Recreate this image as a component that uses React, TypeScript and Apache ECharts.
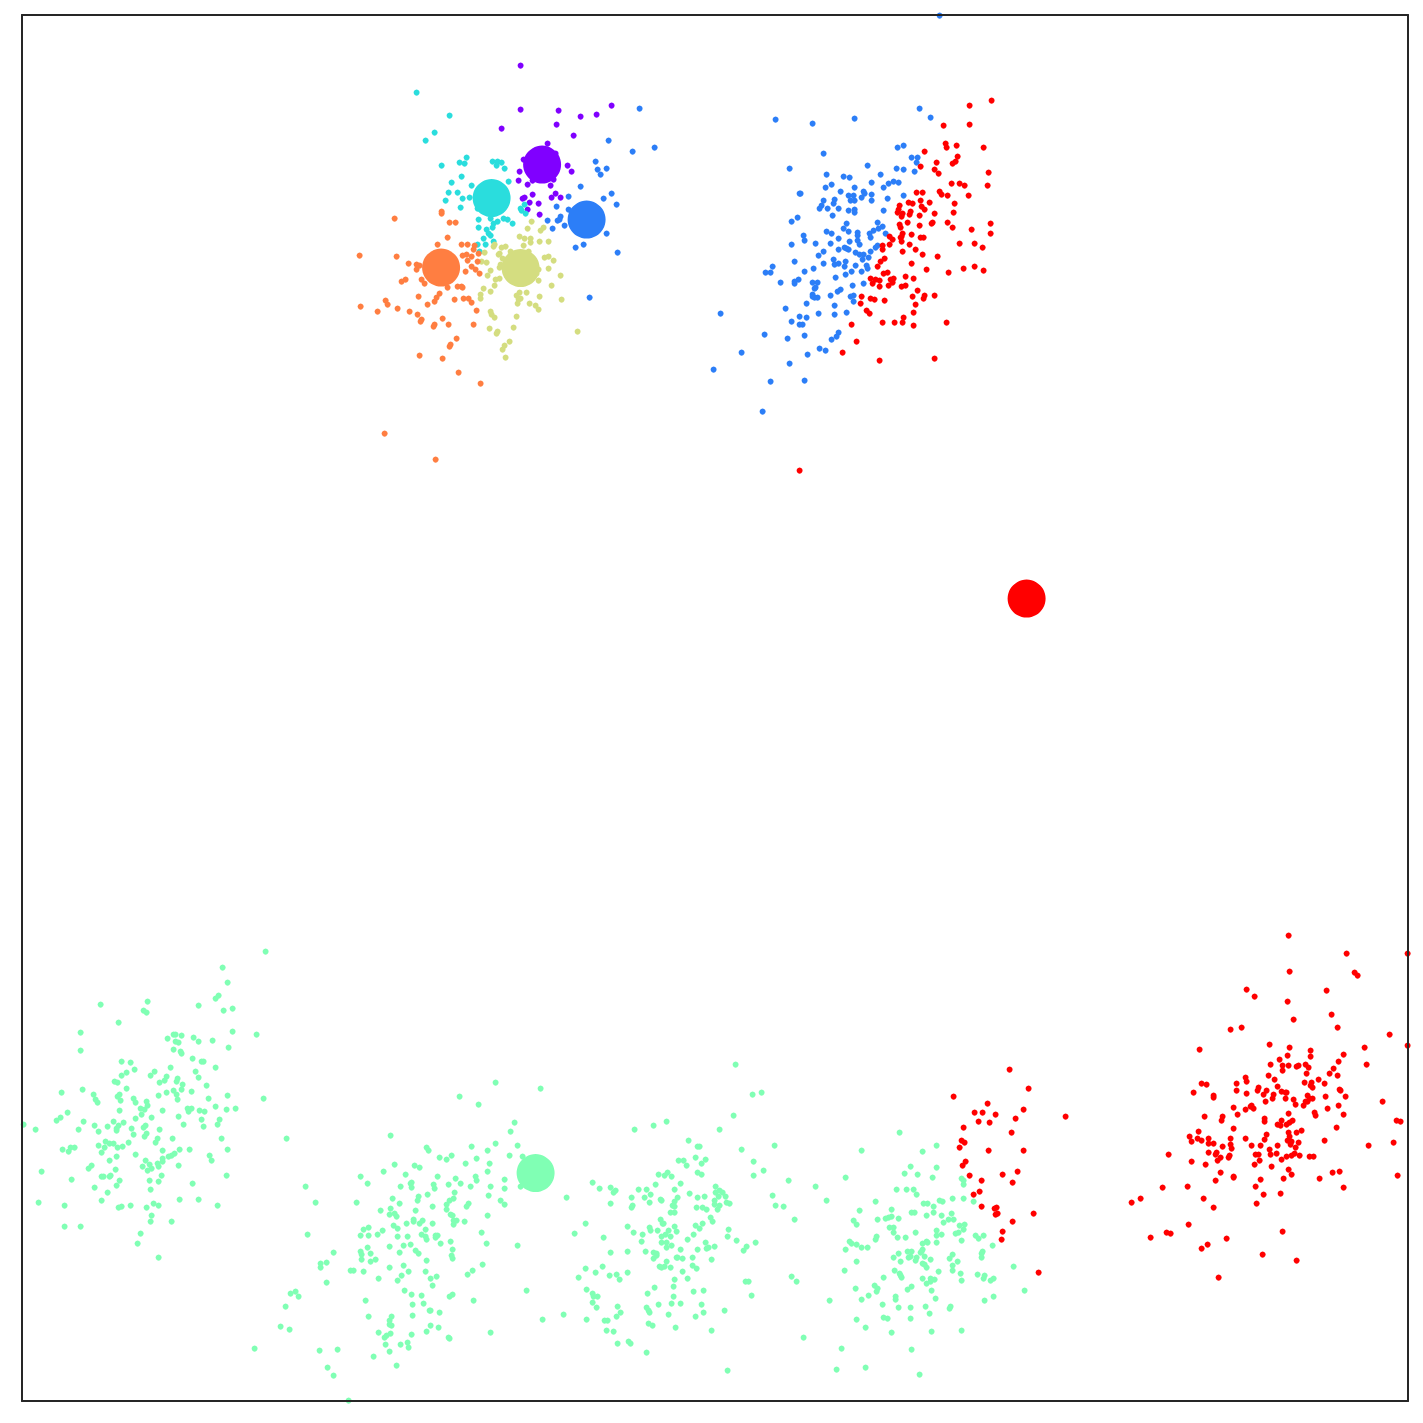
import React, { useEffect, useRef } from "react";
import * as echarts from "echarts";

const purplePoints = [[520,65],[520,109],[558,110],[580,116],[596,114],[611,105],[501,128],[556,124],[573,135],[547,143],[567,165],[571,171],[519,171],[518,180],[527,184],[550,185],[553,179],[532,194],[555,193],[551,197],[560,197],[522,198],[524,197],[529,202],[538,203],[527,209],[539,214],[555,153],[523,159],[532,180]];

const bluePoints = [[939,15],[639,108],[608,140],[632,151],[654,147],[595,161],[597,169],[606,168],[600,174],[580,186],[568,196],[611,193],[603,198],[616,204],[556,206],[568,209],[560,216],[547,220],[557,220],[559,219],[552,228],[564,225],[606,233],[583,244],[575,247],[617,252],[589,297],
[775,119],[812,123],[854,118],[919,108],[930,117],[823,153],[897,147],[903,145],[911,157],[917,157],[916,162],[914,171],[789,168],[867,165],[896,168],[903,169],[826,174],[843,176],[849,177],[880,174],[871,182],[893,181],[888,183],[898,182],[883,187],[825,187],[831,184],[854,187],[840,191],[799,193],[800,193],[863,191],[864,193],[861,197],[871,194],[903,195],[848,195],[853,195],[850,200],[854,200],[871,200],[887,198],[823,200],[834,199],[833,203],[821,205],[819,208],[827,208],[838,208],[848,210],[854,209],[854,212],[883,210],[832,215],[797,217],[791,221],[846,223],[877,222],[843,228],[848,231],[882,226],[878,228],[873,230],[869,233],[826,231],[831,233],[857,232],[857,235],[885,233],[803,235],[838,238],[870,237],[804,240],[857,240],[849,241],[791,244],[815,243],[830,243],[859,244],[844,247],[846,248],[848,249],[838,249],[877,245],[875,247],[823,251],[870,251],[855,252],[859,254],[863,254],[818,255],[868,257],[862,259],[833,259],[794,261],[845,261],[823,263],[834,264],[838,263],[855,265],[844,266],[866,265],[867,268],[772,266],[813,268],[765,272],[770,272],[804,271],[851,271],[861,271],[845,274],[835,277],[798,279],[794,281],[794,283],[780,282],[812,282],[817,282],[815,287],[863,283],[852,285],[840,289],[837,291],
[720,313],[785,308],[806,303],[830,295],[814,288],[812,294],[812,296],[814,297],[817,297],[850,296],[853,295],[853,301],[834,305],[834,314],[818,313],[846,312],[799,316],[806,317],[791,321],[799,324],[802,324],[764,334],[804,335],[787,338],[838,332],[836,336],[831,339],[819,348],[825,350],[741,352],[807,354],[789,363],[713,369],[770,381],[804,380],[762,411]];

const cyanPoints = [[416,92],[449,115],[434,132],[425,140],[466,157],[459,162],[464,163],[441,165],[492,161],[497,161],[501,162],[496,165],[504,168],[461,176],[451,182],[471,185],[508,181],[448,192],[457,192],[462,198],[469,197],[445,200],[460,207],[524,204],[520,208],[521,210],[525,213],[478,219],[490,218],[497,221],[503,218],[507,219],[512,223],[493,223],[492,227],[478,227],[486,229],[488,233],[490,235],[483,238],[493,241],[477,244],[485,244],[479,251],[477,208]];

const greenPoints = [[265,951],[222,967],[227,982],[218,995],[215,998],[100,1004],[147,1001],[198,1005],[223,1010],[232,1008],[143,1010],[146,1012],[118,1022],[80,1032],[232,1031],[256,1034],[173,1034],[175,1034],[181,1035],[167,1038],[193,1037],[198,1041],[212,1040],[175,1041],[178,1042],[228,1047],[80,1050],[173,1049],[180,1051],[181,1053],[192,1058],[121,1061],[130,1062],[201,1061],[203,1061],[134,1069],[170,1067],[215,1067],[126,1072],[121,1075],[154,1071],[150,1075],[195,1071],[198,1077],[166,1076],[164,1080],[159,1082],[177,1078],[176,1081],[114,1081],[117,1082],[182,1084],[206,1085],[126,1088],[181,1089],[173,1090],[166,1092],[191,1091],[61,1092],[82,1089],[93,1094],[119,1094],[117,1096],[158,1095],[176,1094],[227,1095],[177,1099],[208,1098],[263,1098],[95,1099],[97,1102],[120,1100],[133,1098],[135,1102],[146,1101],[147,1105],[140,1108],[144,1109],[119,1110],[162,1110],[187,1108],[191,1108],[188,1111],[199,1110],[204,1111],[215,1106],[226,1109],[235,1108],[67,1112],[60,1117],[56,1120],[141,1114],[135,1118],[151,1117],[178,1116],[201,1119],[219,1119],[83,1121],[94,1125],[113,1121],[123,1122],[107,1126],[118,1125],[116,1128],[116,1130],[145,1125],[143,1127],[183,1124],[217,1124],[203,1126],[23,1124],[35,1129],[78,1129],[98,1131],[131,1128],[159,1129],[133,1134],[146,1133],[144,1136],[157,1138],[172,1138],[221,1138],[155,1142],[105,1141],[109,1143],[113,1143],[128,1142],[98,1145],[104,1147],[117,1147],[122,1146],[70,1147],[74,1147],[62,1149],[68,1151],[101,1152],[162,1150],[179,1149],[189,1149],[227,1149],[135,1154],[174,1153],[171,1155],[168,1156],[209,1155],[116,1156],[109,1160],[145,1160],[162,1158],[162,1161],[211,1160],[157,1163],[149,1164],[158,1166],[142,1166],[178,1165],[91,1165],[88,1168],[151,1168],[147,1170],[115,1169],[41,1171],[101,1176],[103,1176],[109,1176],[110,1175],[161,1175],[226,1175],[71,1179],[119,1180],[149,1180],[158,1181],[192,1183],[116,1185],[94,1187],[150,1189],[107,1192],[101,1200],[179,1199],[198,1199],[38,1202],[64,1205],[118,1207],[121,1206],[130,1205],[146,1207],[153,1203],[158,1205],[217,1205],[151,1215],[150,1221],[171,1221],[64,1226],[80,1226],[140,1233],[137,1243],[158,1257],
[495,1082],[540,1088],[459,1096],[478,1104],[514,1122],[510,1131],[286,1138],[390,1135],[426,1147],[428,1150],[471,1146],[495,1143],[517,1145],[487,1150],[509,1155],[522,1156],[439,1157],[446,1159],[451,1155],[476,1158],[465,1163],[489,1163],[394,1164],[414,1165],[419,1167],[487,1171],[383,1171],[405,1174],[360,1176],[437,1176],[475,1176],[455,1178],[476,1180],[504,1179],[367,1183],[411,1182],[410,1183],[433,1184],[448,1184],[460,1183],[305,1186],[400,1186],[411,1187],[434,1188],[470,1186],[490,1186],[504,1188],[520,1186],[454,1192],[427,1194],[488,1195],[418,1196],[392,1198],[417,1200],[453,1198],[449,1200],[500,1200],[315,1202],[356,1202],[399,1203],[446,1204],[468,1203],[466,1206],[504,1204],[432,1206],[390,1208],[380,1210],[415,1210],[446,1209],[389,1214],[394,1213],[396,1216],[450,1214],[452,1215],[487,1215],[413,1219],[413,1221],[422,1220],[419,1223],[406,1223],[432,1223],[453,1220],[456,1220],[453,1224],[464,1221],[393,1225],[397,1228],[363,1229],[368,1227],[382,1230],[425,1229],[481,1232],[307,1234],[360,1235],[368,1235],[377,1234],[397,1236],[407,1236],[421,1234],[425,1236],[426,1239],[435,1235],[437,1235],[435,1237],[450,1241],[440,1243],[486,1243],[517,1245],[403,1245],[410,1244],[389,1246],[367,1247],[452,1249],[360,1251],[415,1250],[333,1252],[361,1254],[370,1253],[399,1252],[418,1253],[451,1255],[452,1258],[361,1259],[375,1259],[370,1261],[426,1260],[326,1262],[320,1263],[320,1267],[403,1265],[389,1267],[482,1264],[350,1270],[353,1270],[363,1271],[408,1271],[425,1271],[472,1270],[467,1274],[401,1275],[378,1278],[397,1280],[430,1278],[436,1276],[326,1282],[432,1285],[404,1290],[295,1291],[290,1293],[298,1296],[411,1294],[421,1295],[449,1296],[452,1294],[526,1290],[365,1300],[473,1300],[412,1304],[423,1303],[285,1306],[429,1310],[430,1310],[439,1312],[368,1316],[391,1316],[412,1315],[389,1320],[542,1319],[389,1324],[391,1325],[430,1325],[438,1327],[280,1326],[289,1329],[426,1331],[378,1332],[390,1333],[386,1335],[384,1337],[411,1334],[490,1332],[448,1337],[449,1338],[385,1344],[400,1344],[407,1342],[408,1347],[254,1348],[319,1350],[337,1349],[389,1351],[373,1356],[396,1365],[327,1367],[333,1375],[348,1400],
[735,1064],[752,1094],[761,1092],[733,1115],[634,1129],[653,1125],[666,1121],[719,1129],[688,1140],[697,1146],[699,1146],[774,1145],[741,1149],[695,1157],[705,1159],[678,1160],[683,1160],[753,1161],[701,1163],[686,1165],[763,1170],[697,1172],[701,1174],[658,1174],[667,1172],[664,1175],[671,1176],[753,1175],[788,1180],[592,1182],[655,1184],[680,1183],[715,1186],[599,1188],[610,1187],[615,1190],[613,1192],[638,1189],[646,1189],[674,1189],[719,1190],[715,1192],[722,1192],[689,1193],[650,1194],[772,1195],[566,1197],[631,1197],[644,1197],[677,1197],[697,1197],[704,1196],[718,1196],[725,1196],[660,1199],[661,1200],[674,1201],[714,1200],[649,1202],[726,1202],[729,1203],[610,1203],[714,1204],[719,1205],[672,1205],[674,1206],[632,1205],[631,1207],[696,1207],[702,1207],[706,1209],[717,1209],[775,1205],[783,1206],[670,1212],[674,1212],[710,1217],[712,1221],[794,1219],[660,1219],[662,1223],[663,1223],[585,1223],[702,1223],[695,1225],[699,1228],[627,1226],[649,1227],[674,1226],[650,1230],[657,1230],[668,1230],[676,1231],[728,1229],[574,1233],[633,1232],[642,1234],[665,1234],[661,1236],[670,1236],[693,1234],[727,1236],[603,1237],[687,1239],[736,1240],[641,1241],[661,1242],[666,1242],[705,1242],[755,1242],[671,1245],[666,1247],[714,1246],[746,1246],[706,1248],[708,1247],[680,1249],[697,1249],[743,1250],[610,1252],[627,1251],[645,1251],[653,1252],[656,1253],[656,1255],[653,1258],[676,1257],[677,1257],[682,1258],[692,1257],[711,1259],[666,1261],[602,1266],[692,1265],[659,1266],[661,1267],[664,1266],[670,1267],[696,1268],[585,1268],[595,1272],[627,1272],[682,1271],[609,1275],[616,1274],[578,1277],[619,1279],[674,1279],[687,1278],[791,1276],[796,1281],[745,1281],[748,1281],[673,1286],[654,1287],[586,1289],[693,1291],[703,1290],[592,1293],[647,1293],[593,1296],[597,1296],[673,1296],[751,1295],[592,1302],[658,1304],[671,1303],[680,1303],[701,1304],[596,1307],[617,1306],[646,1307],[648,1310],[649,1312],[620,1312],[703,1312],[724,1310],[563,1314],[668,1314],[616,1316],[695,1316],[586,1319],[604,1320],[607,1320],[648,1323],[652,1325],[675,1327],[606,1330],[613,1331],[711,1330],[803,1337],[617,1343],[628,1341],[630,1343],[646,1352],[727,1370],
[899,1132],[936,1145],[861,1150],[922,1151],[910,1166],[936,1167],[904,1173],[917,1174],[845,1177],[932,1177],[961,1178],[963,1180],[963,1184],[815,1186],[896,1189],[906,1189],[913,1189],[916,1194],[826,1200],[875,1201],[952,1198],[963,1198],[939,1200],[942,1201],[973,1201],[923,1203],[927,1203],[933,1206],[859,1210],[891,1209],[911,1212],[914,1212],[933,1212],[951,1213],[941,1215],[926,1215],[891,1216],[888,1217],[885,1218],[898,1218],[877,1219],[853,1220],[948,1219],[953,1219],[856,1224],[943,1222],[959,1225],[964,1224],[889,1227],[893,1227],[963,1229],[936,1230],[893,1232],[915,1232],[955,1233],[958,1232],[936,1235],[941,1234],[975,1235],[983,1235],[978,1238],[876,1236],[875,1239],[897,1237],[905,1237],[961,1240],[849,1241],[851,1243],[856,1244],[922,1243],[926,1241],[927,1242],[936,1242],[992,1245],[861,1247],[867,1247],[845,1249],[922,1249],[907,1251],[911,1251],[921,1251],[920,1252],[898,1253],[982,1251],[981,1253],[952,1254],[893,1257],[908,1257],[910,1256],[916,1257],[924,1256],[949,1258],[981,1257],[856,1261],[900,1261],[915,1260],[930,1259],[957,1261],[922,1263],[924,1264],[926,1267],[952,1265],[1013,1266],[844,1270],[894,1270],[938,1271],[952,1270],[899,1273],[900,1275],[960,1273],[977,1274],[984,1275],[883,1277],[901,1277],[922,1278],[930,1278],[934,1279],[930,1281],[961,1280],[983,1278],[993,1278],[990,1280],[926,1283],[874,1285],[911,1286],[855,1288],[877,1288],[907,1289],[931,1290],[1024,1290],[876,1291],[868,1295],[895,1296],[993,1296],[861,1299],[895,1299],[829,1300],[935,1298],[984,1300],[882,1304],[898,1307],[910,1307],[925,1306],[950,1306],[949,1308],[929,1313],[883,1317],[887,1318],[910,1318],[856,1319],[865,1327],[891,1332],[931,1331],[961,1330],[841,1348],[911,1349],[836,1369],[865,1367],[919,1374]];

const khakiPoints = [[531,221],[527,228],[540,230],[543,227],[519,236],[524,238],[530,238],[530,242],[539,241],[548,241],[523,245],[494,244],[493,246],[501,247],[505,246],[484,252],[499,253],[498,254],[510,251],[528,251],[502,258],[544,257],[548,256],[553,260],[481,261],[486,262],[500,264],[499,267],[548,268],[490,270],[487,275],[538,269],[536,273],[560,275],[499,278],[495,279],[538,280],[494,285],[551,285],[483,288],[490,291],[519,292],[526,292],[480,294],[480,298],[516,295],[520,298],[518,299],[517,303],[539,296],[561,299],[529,303],[535,305],[538,309],[490,311],[491,314],[494,317],[516,316],[489,328],[513,327],[497,331],[496,333],[577,331],[509,341],[504,345],[502,349],[505,357]];

const orangePoints = [[394,218],[441,213],[441,211],[449,222],[455,222],[447,237],[437,244],[461,244],[467,244],[474,245],[359,255],[396,256],[473,249],[462,255],[466,254],[471,256],[478,253],[467,260],[477,261],[408,263],[416,264],[416,269],[419,265],[471,266],[475,269],[479,273],[465,271],[401,281],[405,279],[421,279],[424,283],[447,287],[457,286],[461,286],[462,287],[439,293],[418,296],[436,297],[434,301],[454,299],[463,298],[468,298],[471,302],[385,300],[387,304],[427,304],[360,306],[377,311],[397,308],[409,311],[417,314],[476,310],[421,319],[420,321],[442,318],[434,324],[433,326],[448,324],[473,324],[456,338],[450,344],[449,346],[419,355],[442,358],[458,372],[480,383],[384,433],[435,459]];

const redPoints = [[991,100],[969,105],[969,124],[943,125],[945,143],[946,147],[956,145],[983,147],[924,151],[957,156],[955,161],[952,163],[936,162],[920,166],[934,169],[938,173],[988,172],[951,183],[959,183],[964,185],[987,185],[939,191],[941,194],[947,195],[968,195],[916,192],[922,192],[920,200],[908,202],[912,203],[929,202],[954,203],[899,205],[921,206],[924,209],[898,209],[897,212],[910,211],[909,214],[902,213],[901,216],[919,215],[934,213],[953,212],[907,222],[899,224],[900,227],[919,225],[931,223],[932,222],[947,222],[952,227],[990,223],[971,229],[990,233],[902,233],[901,236],[900,237],[911,234],[920,237],[923,237],[889,236],[892,239],[901,241],[889,244],[909,244],[882,245],[959,243],[974,243],[982,247],[882,249],[915,249],[902,251],[922,254],[937,256],[884,258],[880,261],[911,263],[877,266],[926,269],[963,268],[974,266],[983,270],[948,272],[883,273],[887,272],[905,276],[913,278],[870,278],[875,279],[879,280],[893,278],[890,279],[892,282],[872,283],[879,286],[888,285],[901,286],[905,285],[917,290],
[912,296],[924,295],[923,298],[934,295],[861,296],[870,298],[874,299],[884,300],[860,303],[915,304],[866,310],[869,313],[913,312],[903,317],[851,324],[882,322],[894,322],[902,322],[913,325],[946,322],[856,341],[842,352],[879,360],[934,358],[799,470],
[1009,1069],[1028,1088],[953,1096],[987,1103],[974,1112],[982,1112],[995,1114],[1023,1109],[1015,1118],[1065,1116],[978,1121],[989,1122],[963,1127],[1011,1132],[961,1140],[964,1142],[959,1147],[988,1150],[1023,1150],[965,1161],[962,1165],[1017,1171],[1002,1174],[969,1175],[981,1180],[1012,1182],[979,1191],[973,1194],[981,1206],[994,1208],[996,1207],[995,1214],[997,1213],[1033,1213],[1012,1221],[1002,1231],[1001,1239],[1038,1272],
[1288,935],[1346,953],[1407,953],[1289,971],[1354,972],[1357,975],[1246,989],[1254,996],[1326,990],[1287,1001],[1331,1014],[1293,1019],[1337,1027],[1230,1029],[1241,1027],[1389,1034],[1269,1044],[1407,1045],[1199,1049],[1289,1047],[1364,1047],[1310,1050],[1287,1055],[1310,1056],[1343,1054],[1279,1059],[1338,1061],[1270,1064],[1282,1065],[1288,1065],[1296,1066],[1298,1065],[1305,1064],[1308,1067],[1366,1064],[1282,1070],[1333,1068],[1306,1073],[1329,1073],[1337,1075],[1268,1075],[1245,1077],[1246,1081],[1274,1079],[1318,1079],[1201,1083],[1206,1084],[1236,1083],[1304,1082],[1311,1082],[1324,1083],[1277,1086],[1310,1085],[1312,1087],[1258,1087],[1257,1090],[1236,1090],[1266,1090],[1281,1091],[1285,1092],[1286,1092],[1339,1089],[1340,1090],[1193,1092],[1246,1093],[1263,1094],[1273,1094],[1213,1095],[1213,1097],[1272,1098],[1285,1098],[1307,1095],[1325,1096],[1345,1096],[1293,1099],[1309,1098],[1312,1098],[1265,1101],[1305,1101],[1307,1101],[1382,1101],[1295,1104],[1303,1105],[1338,1105],[1233,1107],[1251,1105],[1250,1106],[1253,1108],[1245,1109],[1327,1108],[1314,1112],[1315,1115],[1288,1113],[1237,1114],[1343,1114],[1204,1116],[1222,1116],[1221,1120],[1264,1118],[1264,1121],[1281,1120],[1292,1120],[1289,1122],[1286,1124],[1277,1124],[1280,1125],[1396,1120],[1400,1121],[1233,1128],[1336,1127],[1301,1130],[1296,1132],[1288,1132],[1198,1131],[1266,1134],[1289,1136],[1189,1136],[1197,1138],[1208,1138],[1230,1138],[1245,1138],[1264,1139],[1191,1141],[1201,1140],[1287,1140],[1291,1141],[1324,1140],[1208,1143],[1213,1143],[1298,1142],[1393,1142],[1290,1144],[1230,1144],[1222,1146],[1251,1145],[1260,1145],[1277,1145],[1368,1145],[1231,1148],[1295,1147],[1269,1149],[1208,1152],[1216,1152],[1215,1154],[1168,1154],[1255,1154],[1258,1154],[1270,1154],[1276,1153],[1294,1153],[1291,1155],[1286,1156],[1299,1155],[1309,1156],[1313,1156],[1229,1155],[1228,1157],[1220,1157],[1217,1160],[1259,1160],[1281,1159],[1191,1161],[1205,1164],[1254,1164],[1271,1166],[1288,1169],[1220,1172],[1332,1172],[1339,1171],[1291,1174],[1397,1175],[1233,1176],[1233,1177],[1215,1180],[1260,1179],[1283,1178],[1319,1178],[1162,1187],[1187,1186],[1255,1186],[1343,1187],[1280,1193],[1263,1194],[1140,1198],[1131,1202],[1203,1198],[1213,1207],[1256,1203],[1188,1224],[1282,1231],[1166,1232],[1170,1233],[1150,1237],[1226,1238],[1207,1244],[1201,1248],[1262,1254],[1296,1260],[1218,1277]];

const clusterNames = ["0", "1", "2", "3", "4", "5", "6"];
const clusterColors = ["#8000ff", "#2c7ef7", "#2adddd", "#80ffb4", "#d4dd80", "#ff7e41", "#ff0000"];
const clusterPoints = [purplePoints, bluePoints, cyanPoints, greenPoints, khakiPoints, orangePoints, redPoints];
const centroids = [[541.5, 164], [586, 219], [491, 197.5], [535, 1172.5], [520, 267.5], [440.5, 267], [1026, 598]];

const xRange = [21.4, 1407.4];
const yRange = [14.4, 1400.4];

export default function App() {
  const ref = useRef<HTMLDivElement>(null);
  useEffect(() => {
    const chart = echarts.init(ref.current!, undefined, { renderer: "svg" });
    const frame = { show: true, onZero: false, lineStyle: { color: "#262626", width: 2 } };
    const hidden = { axisTick: { show: false }, axisLabel: { show: false }, splitLine: { show: false }, z: 10 };
    chart.setOption({
      animation: false,
      backgroundColor: "#ffffff",
      grid: { left: 22, top: 15, width: 1386, height: 1386, show: false },
      xAxis: [
        { type: "value", position: "bottom", min: xRange[0], max: xRange[1], axisLine: frame, ...hidden },
        { type: "value", position: "top", min: xRange[0], max: xRange[1], axisLine: frame, ...hidden },
      ],
      yAxis: [
        { type: "value", position: "left", inverse: true, min: yRange[0], max: yRange[1], axisLine: frame, ...hidden },
        { type: "value", position: "right", inverse: true, min: yRange[0], max: yRange[1], axisLine: frame, ...hidden },
      ],
      series: [
        ...clusterPoints.map((data, i) => ({
          name: clusterNames[i],
          type: "scatter",
          data,
          symbolSize: 6,
          itemStyle: { color: clusterColors[i], opacity: 1 },
          silent: true,
          z: 2,
        })),
        {
          name: "centroids",
          type: "scatter",
          data: centroids.map((c, i) => ({ value: c, itemStyle: { color: clusterColors[i], opacity: 1 } })),
          symbolSize: 38,
          silent: true,
          z: 3,
        },
      ],
    });
    return () => chart.dispose();
  }, []);
  return <div ref={ref} style={{ position: "absolute", left: 0, top: 0, width: 1423, height: 1423 }} />;
}
